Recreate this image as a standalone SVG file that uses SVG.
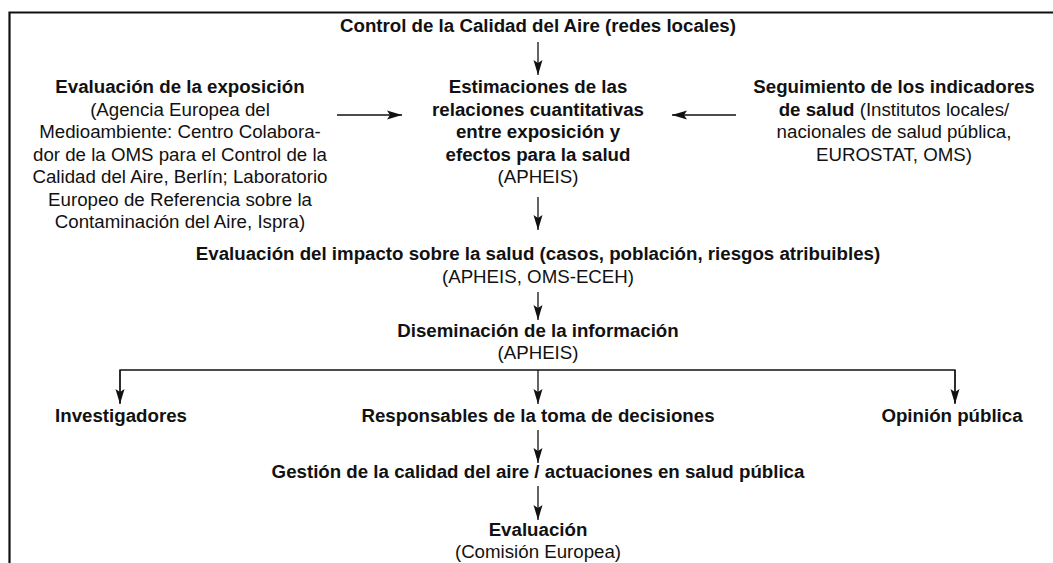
<svg xmlns="http://www.w3.org/2000/svg" width="1053" height="563" viewBox="0 0 1053 563">
<style>
text{font-family:"Liberation Sans",Arial,sans-serif;font-size:18.7px;fill:#111;text-anchor:middle}
.b{font-weight:bold}
.frame{stroke:#111;stroke-width:2.2;fill:none}
.c{stroke:#111;stroke-width:1.3;fill:none;marker-end:url(#ah)}
.cl{stroke:#111;stroke-width:1.3;fill:none}
</style>
<defs>
<marker id="ah" viewBox="0 0 15 10" refX="15" refY="5" markerWidth="15" markerHeight="10" markerUnits="userSpaceOnUse" orient="auto">
<path d="M0,0.5 L15,5 L0,9.5 L3,5 Z" fill="#111"/>
</marker>
</defs>
<rect width="1053" height="563" fill="#fff"/>
<path class="frame" d="M9.5,563 V12.5 H1053"/>
<g id="connectors">
<line class="c" x1="538" y1="42" x2="538" y2="75"/>
<line class="c" x1="337" y1="115" x2="402" y2="115"/>
<line class="c" x1="736" y1="115" x2="672" y2="115"/>
<line class="c" x1="538" y1="197" x2="538" y2="230"/>
<line class="c" x1="538" y1="292" x2="538" y2="320"/>
<path class="cl" d="M120,403 V370 H955 V403"/>
<line class="c" x1="120" y1="370" x2="120" y2="404"/>
<line class="c" x1="538" y1="370" x2="538" y2="404"/>
<line class="c" x1="955" y1="370" x2="955" y2="404"/>
<line class="c" x1="538" y1="430" x2="538" y2="463"/>
<line class="c" x1="538" y1="486" x2="538" y2="520"/>
</g>
<g id="n-control"><text class="b" x="538" y="32">Control de la Calidad del Aire (redes locales)</text></g>
<g id="n-estimaciones">
<text class="b" x="538" y="93">Estimaciones de las</text>
<text class="b" x="538" y="115.5">relaciones cuantitativas</text>
<text class="b" x="538" y="138">entre exposición y</text>
<text class="b" x="538" y="160.5">efectos para la salud</text>
<text x="538" y="183">(APHEIS)</text>
</g>
<g id="n-exposicion">
<text class="b" x="180" y="93">Evaluación de la exposición</text>
<text x="180" y="115.5">(Agencia Europea del</text>
<text x="180" y="138">Medioambiente: Centro Colabora-</text>
<text x="180" y="160.5">dor de la OMS para el Control de la</text>
<text x="180" y="183">Calidad del Aire, Berlín; Laboratorio</text>
<text x="180" y="205.5">Europeo de Referencia sobre la</text>
<text x="180" y="228">Contaminación del Aire, Ispra)</text>
</g>
<g id="n-seguimiento">
<text class="b" x="894" y="93">Seguimiento de los indicadores</text>
<text x="894" y="115.5"><tspan class="b">de salud</tspan> (Institutos locales/</text>
<text x="894" y="138">nacionales de salud pública,</text>
<text x="894" y="160.5">EUROSTAT, OMS)</text>
</g>
<g id="n-impacto">
<text class="b" x="538" y="260">Evaluación del impacto sobre la salud (casos, población, riesgos atribuibles)</text>
<text x="538" y="282.5">(APHEIS, OMS-ECEH)</text>
</g>
<g id="n-diseminacion">
<text class="b" x="538" y="337">Diseminación de la información</text>
<text x="538" y="359">(APHEIS)</text>
</g>
<g id="n-investigadores"><text class="b" x="121" y="422">Investigadores</text></g>
<g id="n-responsables"><text class="b" x="538" y="422">Responsables de la toma de decisiones</text></g>
<g id="n-opinion"><text class="b" x="952" y="422">Opinión pública</text></g>
<g id="n-gestion"><text class="b" x="538" y="478">Gestión de la calidad del aire / actuaciones en salud pública</text></g>
<g id="n-evaluacion">
<text class="b" x="538" y="536">Evaluación</text>
<text x="538" y="558">(Comisión Europea)</text>
</g>
</svg>
